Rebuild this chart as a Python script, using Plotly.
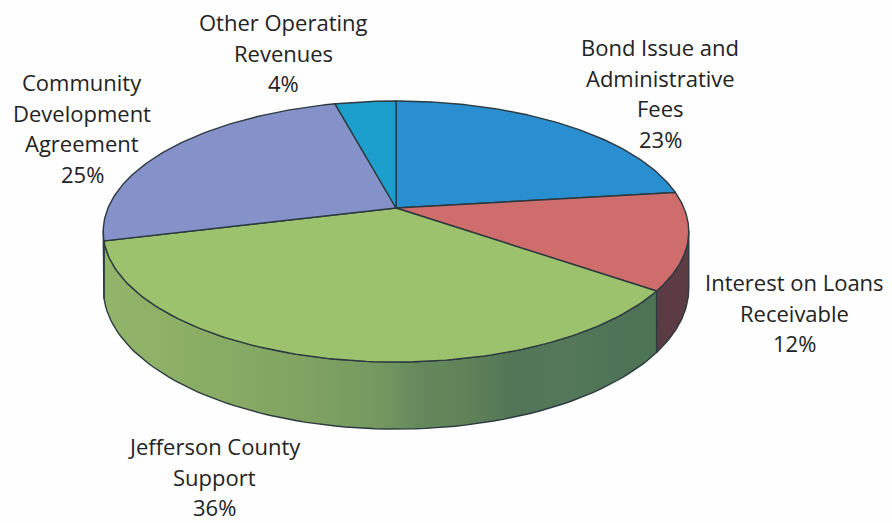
import numpy as np
import plotly.graph_objects as go

# Slices clockwise from twelve o'clock
categories = ["Bond Issue and Administrative Fees", "Interest on Loans Receivable",
              "Jefferson County Support", "Community Development Agreement",
              "Other Operating Revenues"]
shares = [23, 12, 36, 25, 4]
label_lines = [
    ["Bond Issue and", "Administrative", "Fees"],
    ["Interest on Loans", "Receivable"],
    ["Jefferson County", "Support"],
    ["Community", "Development", "Agreement"],
    ["Other Operating", "Revenues"],
]
top_colors = ["#2a8fd0", "#cf6c6c", "#9cc26e", "#8591c9", "#1c9fcd"]
side_colors = ["#2a6a96", "#5c3b45", "#6f9660", "#4d5690", "#176f90"]
label_anchor = [(660, 47), (794, 282), (214, 446), (82, 82), (283, 22)]

# Pie position and perspective tilt, in pixels of the page
CX, CY = 396, 208
AX, BY, TILT, DEPTH = 288, 126.3, 0.18, 55
LINE_STEP = 30.6
OUTLINE = "#2c3a40"

# Left-to-right shading of the green rim
rim_shades = [[0.0, "#93b56a"], [0.18, "#8aad65"], [0.36, "#80a362"], [0.5, "#749860"],
              [0.58, "#64875b"], [0.66, "#5f8259"], [0.74, "#527557"], [0.84, "#55785a"],
              [0.92, "#4f7356"], [1.0, "#4d7355"]]


def project(share_pos, drop=0.0):
    """Map a position on the pie (0-100 around the rim) to tilted page coordinates."""
    t = np.asarray(share_pos) / 100 * 2 * np.pi
    u, v = np.sin(t), np.cos(t)
    w = 1 + TILT * v
    return CX + AX * u / w, CY - BY * v / w + drop / w


def rim_face(a, b):
    pos = np.linspace(a, b, 80)
    x0, y0 = project(pos)
    x1, y1 = project(pos, DEPTH)
    return np.r_[x0, x1[::-1], x0[0]], np.r_[y0, y1[::-1], y0[0]]


edges = np.r_[0, np.cumsum(shares)]
RIM_START, RIM_END = 27.8, 72.2  # silhouette tangents of the extruded disc

fig = go.Figure()

# Rim faces go first so the top of the pie overlaps them
for i in range(len(shares)):
    a, b = max(edges[i], RIM_START), min(edges[i + 1], RIM_END)
    if a >= b:
        continue
    x, y = rim_face(a, b)
    style = dict(fillcolor=side_colors[i])
    if i == 2:
        style = dict(fillgradient=dict(type="horizontal", colorscale=rim_shades))
    fig.add_trace(go.Scatter(x=x, y=y, mode="lines", fill="toself",
                             line=dict(color=OUTLINE, width=1.4),
                             hoverinfo="skip", showlegend=False, **style))

# Top faces
for i, name in enumerate(categories):
    px, py = project(np.linspace(edges[i], edges[i + 1], 120))
    fig.add_trace(go.Scatter(x=np.r_[CX, px, CX], y=np.r_[CY, py, CY], mode="lines",
                             fill="toself", fillcolor=top_colors[i],
                             line=dict(color=OUTLINE, width=1.4),
                             name=name, hoverinfo="name", showlegend=False))

# Labels, one annotation per line for the wide leading
for i, lines in enumerate(label_lines):
    x0, y0 = label_anchor[i]
    for j, text in enumerate(lines + [f"{shares[i]}%"]):
        fig.add_annotation(x=x0, y=y0 + j * LINE_STEP, text=text, showarrow=False,
                           xanchor="center", yanchor="middle",
                           font=dict(family="Open Sans", size=22, color="#232323"))

fig.update_layout(
    width=892, height=523, margin=dict(l=0, r=0, t=0, b=0),
    paper_bgcolor="#fefefe", plot_bgcolor="#fefefe", showlegend=False,
    xaxis=dict(range=[0, 892], visible=False, fixedrange=True),
    yaxis=dict(range=[523, 0], visible=False, fixedrange=True),
)
fig.write_html("out.html")
